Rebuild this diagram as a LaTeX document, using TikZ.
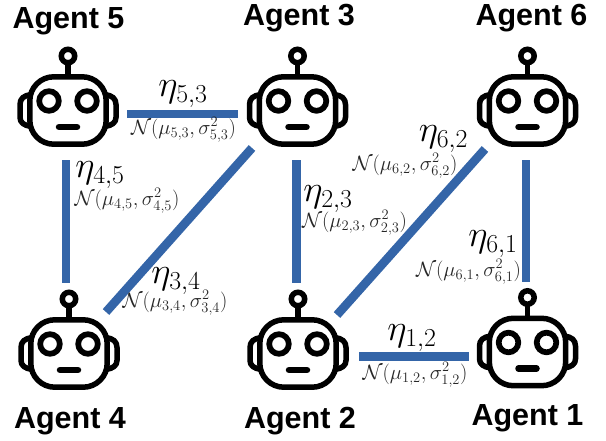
\documentclass[tikz,border=0pt]{standalone}
\usepackage{fix-cm}
\usepackage{fontspec}
\setmainfont{Liberation Sans}
\definecolor{linkblue}{HTML}{3465A8}
\tikzset{
  x=1pt, y=-1pt,
  agent/.style={font=\fontsize{30.5}{32}\selectfont\bfseries, inner sep=0pt},
  hub/.style={inner sep=0pt, minimum size=0pt},
  link/.style={line width=8.7pt, draw=linkblue},
  rate/.style={font=\fontsize{37}{39}\selectfont, inner sep=0pt},
  dist/.style={font=\fontsize{20.7}{23}\selectfont, inner sep=0pt, text=black!85},
  robot/.pic={
    \draw[line width=5.5pt, rounded corners=24pt] (-38.2,-33.7) rectangle (38.2,33.7);
    \draw[line width=5.5pt, line join=round] (-37,-16) .. controls (-44,-15) and (-48,-12) .. (-48,-6) -- (-48,7) .. controls (-48,12) and (-44,15) .. (-37,16);
    \draw[line width=5.5pt, line join=round] (37,-16) .. controls (44,-15) and (48,-12) .. (48,-6) -- (48,7) .. controls (48,12) and (44,15) .. (37,16);
    \draw[line width=5.5pt] (0,-34) -- (0,-47);
    \draw[line width=5.5pt] (0,-54.5) circle (6.7);
    \draw[line width=5.7pt] (-19,-9.5) circle (9.8);
    \draw[line width=5.7pt] (19,-9.5) circle (9.8);
    \draw[line width=6.5pt, line cap=round] (-9,16.5) -- (9,16.5);
  }
}
\begin{document}
\begin{tikzpicture}
\useasboundingbox (0,0) rectangle (606,441);
% robots
\pic at (68,110.5) {robot};
\pic at (297.5,110.5) {robot};
\pic at (527.5,110.5) {robot};
\pic at (69,353.5) {robot};
\pic at (298,353.5) {robot};
\pic at (527.5,352) {robot};
% hubs for the links
\node[hub] (hub5) at (66,114) {};
\node[hub] (hub3) at (296.7,114) {};
\node[hub] (hub6) at (526,114) {};
\node[hub] (hub4) at (66,356.7) {};
\node[hub] (hub2) at (296.7,356.7) {};
\node[hub] (hub1) at (526,356.7) {};
% ends of the slanted links
\coordinate (end3) at (252,148);
\coordinate (end4) at (106,312);
\coordinate (end6) at (485,149);
\coordinate (end2) at (337,315);
% links
\draw[link, shorten <=61pt, shorten >=58.7pt] (hub5) -- (hub3);
\draw[link, shorten <=46pt, shorten >=73.7pt] (hub5) -- (hub4);
\draw[link] (end3) -- (end4);
\draw[link, shorten <=46pt, shorten >=73.7pt] (hub3) -- (hub2);
\draw[link] (end6) -- (end2);
\draw[link, shorten <=46pt, shorten >=74.7pt] (hub6) -- (hub1);
\draw[link, shorten <=62.3pt, shorten >=57pt] (hub2) -- (hub1);
% names
\node[agent] (name5) at (68.5,21.5) {Agent 5};
\node[agent] (name3) at (299,18) {Agent 3};
\node[agent] (name6) at (531.5,18) {Agent 6};
\node[agent] (name4) at (70,421) {Agent 4};
\node[agent] (name2) at (300,421) {Agent 2};
\node[agent] (name1) at (527.5,418) {Agent 1};
% edge labels
\node[rate] (rate53) at (183,94) {$\eta_{5,3}$};
\node[dist] (dist53) at (183.5,130) {$\mathcal{N}(\mu_{5,3},\sigma^2_{5,3})$};
\node[rate] (rate45) at (100,175) {$\eta_{4,5}$};
\node[dist] (dist45) at (127,201) {$\mathcal{N}(\mu_{4,5},\sigma^2_{4,5})$};
\node[rate] (rate34) at (176,281) {$\eta_{3,4}$};
\node[dist] (dist34) at (175,303) {$\mathcal{N}(\mu_{3,4},\sigma^2_{3,4})$};
\node[rate] (rate23) at (328,199) {$\eta_{2,3}$};
\node[dist] (dist23) at (354.5,223) {$\mathcal{N}(\mu_{2,3},\sigma^2_{2,3})$};
\node[rate] (rate62) at (443.5,139) {$\eta_{6,2}$};
\node[dist] (dist62) at (405,166) {$\mathcal{N}(\mu_{6,2},\sigma^2_{6,2})$};
\node[rate] (rate61) at (493,244) {$\eta_{6,1}$};
\node[dist] (dist61) at (468.5,272) {$\mathcal{N}(\mu_{6,1},\sigma^2_{6,1})$};
\node[rate] (rate12) at (412,338) {$\eta_{1,2}$};
\node[dist] (dist12) at (415,375) {$\mathcal{N}(\mu_{1,2},\sigma^2_{1,2})$};
\end{tikzpicture}
\end{document}
